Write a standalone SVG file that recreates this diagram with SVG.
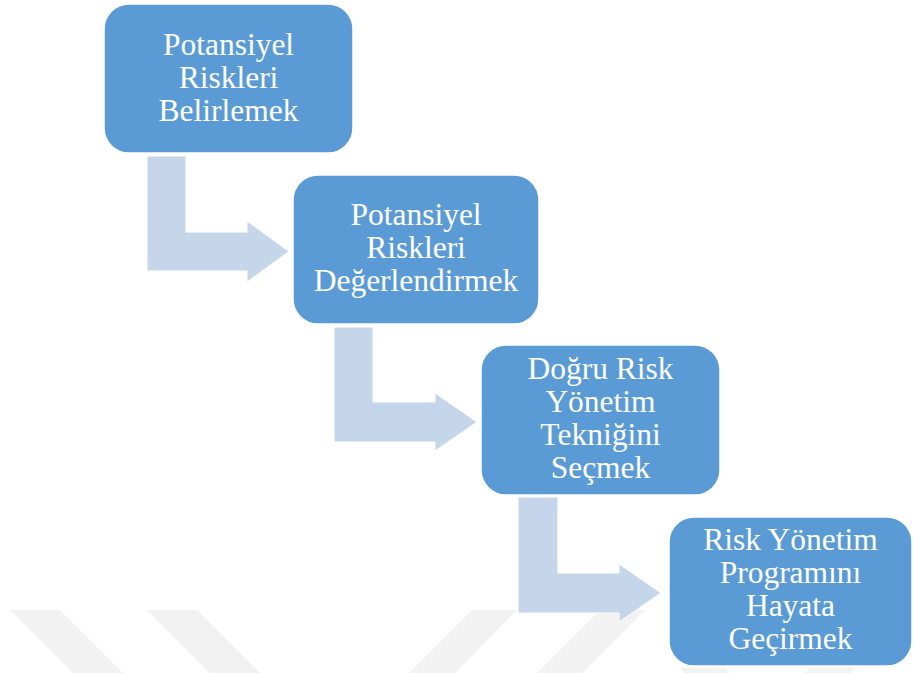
<svg xmlns="http://www.w3.org/2000/svg" width="913" height="673" viewBox="0 0 913 673">
<style>
.wm{fill:#ececec;opacity:0.7}
.arrow{fill:#c5d5ea;stroke:#ffffff;stroke-width:1}
.box{fill:#5b9bd5;stroke:#ffffff;stroke-width:1.5}
.lbl{font-family:"Liberation Serif","Times New Roman",serif;font-size:31.5px;fill:#ffffff;text-anchor:middle}
</style>
<rect width="913" height="673" fill="#ffffff"/>
<g id="watermark">
<polygon class="wm" points="10,610 60,610 123,673 73,673"/>
<polygon class="wm" points="147,610 197,610 260,673 210,673"/>
<polygon class="wm" points="472,610 517,610 455,673 409,673"/>
<polygon class="wm" points="600,610 645,610 582,673 537,673"/>
<polygon class="wm" points="680,668 725,668 730,673 685,673"/>
<polygon class="wm" points="810,668 855,668 850,673 805,673"/>
</g>
<g id="connectors">
<path class="arrow" d="M147,156 H186 V232 H247 V221 L289,251.5 L247,282 V271 H147 Z"/>
<path class="arrow" d="M334,327 H373 V402 H435 V393 L477,422 L435,451 V442 H334 Z"/>
<path class="arrow" d="M518,497 H558 V573 H619 V564 L661,593 L619,622 V613 H518 Z"/>
</g>
<g id="node1">
<rect class="box" x="104" y="4" width="249" height="149" rx="25"/>
<text class="lbl"><tspan x="228.5" y="55">Potansiyel</tspan><tspan x="228.5" y="88">Riskleri</tspan><tspan x="228.5" y="121">Belirlemek</tspan></text>
</g>
<g id="node2">
<rect class="box" x="293" y="175" width="246" height="149" rx="25"/>
<text class="lbl"><tspan x="416" y="225">Potansiyel</tspan><tspan x="416" y="258">Riskleri</tspan><tspan x="416" y="291">Değerlendirmek</tspan></text>
</g>
<g id="node3">
<rect class="box" x="481" y="345" width="239" height="150" rx="25"/>
<text class="lbl"><tspan x="600.5" y="379">Doğru Risk</tspan><tspan x="600.5" y="412">Yönetim</tspan><tspan x="600.5" y="445">Tekniğini</tspan><tspan x="600.5" y="478">Seçmek</tspan></text>
</g>
<g id="node4">
<rect class="box" x="669" y="517" width="243" height="149" rx="25"/>
<text class="lbl"><tspan x="790.5" y="550">Risk Yönetim</tspan><tspan x="790.5" y="583">Programını</tspan><tspan x="790.5" y="616">Hayata</tspan><tspan x="790.5" y="649">Geçirmek</tspan></text>
</g>
</svg>
